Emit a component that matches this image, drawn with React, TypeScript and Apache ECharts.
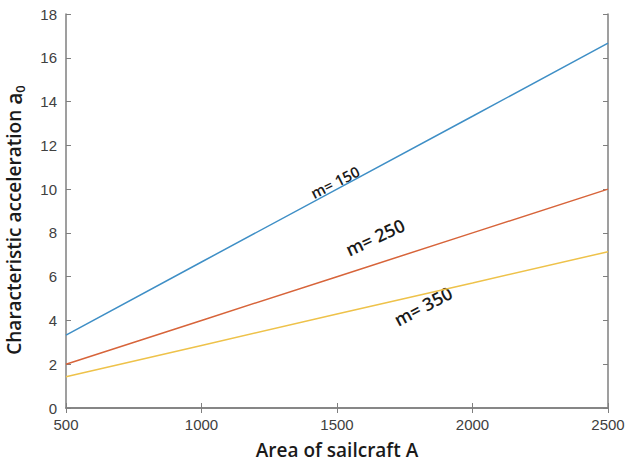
import React, { useEffect, useRef } from "react";
import * as echarts from "echarts";

const areas = [500, 1000, 1500, 2000, 2500];
const m150 = [3.33, 6.67, 10.0, 13.33, 16.67];
const m250 = [2.0, 4.0, 6.0, 8.0, 10.0];
const m350 = [1.43, 2.86, 4.29, 5.71, 7.14];
const seriesNames = ["m= 150", "m= 250", "m= 350"];
const colors = ["#3f8fc6", "#d7643a", "#eec24a"];

export default function App() {
  const ref = useRef<HTMLDivElement>(null);
  useEffect(() => {
    if (!ref.current) return;
    const chart = echarts.init(ref.current, null, { renderer: "svg" });
    const axisColor = "#7f7f7f";
    const labelStyle = { color: "#404040", fontFamily: "Liberation Sans, Arial", fontSize: 15 };
    const data = [m150, m250, m350];
    chart.setOption({
      animation: false,
      grid: { left: 66, top: 14, right: 18, bottom: 54, containLabel: false, outerBoundsMode: "none" },
      xAxis: [
        {
          type: "value",
          min: 500,
          max: 2500,
          interval: 500,
          position: "bottom",
          name: "Area of sailcraft A",
          nameLocation: "middle",
          nameGap: 32,
          nameTextStyle: { color: "#1a1a1a", fontFamily: "Open Sans", fontSize: 19, fontWeight: 600 },
          axisLine: { show: true, lineStyle: { color: axisColor, width: 1.5 } },
          axisTick: { show: true, inside: true, length: 5, lineStyle: { color: axisColor } },
          axisLabel: { ...labelStyle, margin: 9, formatter: (v: number) => String(v) },
          splitLine: { show: false },
        },
        {
          type: "value",
          min: 500,
          max: 2500,
          interval: 500,
          position: "top",
          axisLine: { show: true, lineStyle: { color: axisColor, width: 1.5 } },
          axisTick: { show: true, inside: true, length: 5, lineStyle: { color: axisColor } },
          axisLabel: { show: false },
          splitLine: { show: false },
        },
      ],
      yAxis: [
        {
          type: "value",
          min: 0,
          max: 18,
          interval: 2,
          position: "left",
          name: "Characteristic acceleration {a|a}{sub|0}",
          nameLocation: "middle",
          nameGap: 40,
          nameTextStyle: {
            color: "#1a1a1a",
            fontFamily: "Open Sans",
            fontSize: 19,
            fontWeight: 600,
            lineHeight: 24,
            padding: [0, 18, 0, 0],
            rich: {
              a: { fontFamily: "Open Sans", fontSize: 21, fontWeight: 600, color: "#1a1a1a", lineHeight: 24 },
              sub: { fontFamily: "Open Sans", fontSize: 13, fontWeight: 600, color: "#1a1a1a", verticalAlign: "bottom", lineHeight: 24, padding: [6, 0, 0, 0] },
            },
          },
          axisLine: { show: true, lineStyle: { color: axisColor, width: 1.5 } },
          axisTick: { show: true, inside: true, length: 5, lineStyle: { color: axisColor } },
          axisLabel: { ...labelStyle, margin: 9 },
          splitLine: { show: false },
        },
        {
          type: "value",
          min: 0,
          max: 18,
          interval: 2,
          position: "right",
          axisLine: { show: true, lineStyle: { color: axisColor, width: 1.5 } },
          axisTick: { show: true, inside: true, length: 5, lineStyle: { color: axisColor } },
          axisLabel: { show: false },
          splitLine: { show: false },
        },
      ],
      series: data.map((vals, i) => ({
        type: "line",
        name: seriesNames[i],
        data: areas.map((a, j) => [a, vals[j]]),
        showSymbol: false,
        symbol: "none",
        lineStyle: { color: colors[i], width: 1.5 },
        xAxisIndex: 0,
        yAxisIndex: 0,
      })),
      graphic: [
        {
          type: "text",
          x: 335,
          y: 182,
          rotation: (27 * Math.PI) / 180,
          style: { text: seriesNames[0], fill: "#1a1a1a", font: "600 15px 'Open Sans'", align: "center", verticalAlign: "middle" },
        },
        {
          type: "text",
          x: 375,
          y: 237,
          rotation: (25 * Math.PI) / 180,
          style: { text: seriesNames[1], fill: "#1a1a1a", font: "600 18px 'Open Sans'", align: "center", verticalAlign: "middle" },
        },
        {
          type: "text",
          x: 423,
          y: 306,
          rotation: (28 * Math.PI) / 180,
          style: { text: seriesNames[2], fill: "#1a1a1a", font: "600 18px 'Open Sans'", align: "center", verticalAlign: "middle" },
        },
      ],
    });
    return () => chart.dispose();
  }, []);
  return <div ref={ref} style={{ width: 626, height: 462, position: "absolute", left: 0, top: 0 }} />;
}
